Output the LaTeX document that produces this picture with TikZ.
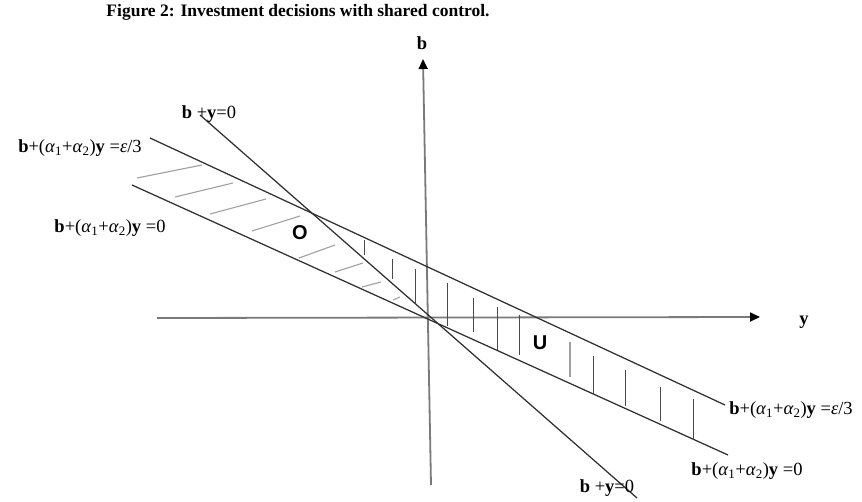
\documentclass[tikz,border=0pt]{standalone}
\usepackage{fontspec}
\setmainfont{Liberation Serif}
\newfontfamily\labsans{Liberation Sans}
\usetikzlibrary{arrows.meta}
\definecolor{linecol}{HTML}{303030}
\definecolor{axiscol}{HTML}{7A7A7A}
\definecolor{hatchgray}{HTML}{A0A0A0}
\definecolor{hatchdark}{HTML}{4A4A4A}
\newcommand{\eqlab}[1]{{\bfseries b}+(\textit{α}\textsubscript{1}+\textit{α}\textsubscript{2}){\bfseries y} =#1}
\begin{document}
\begin{tikzpicture}[x=1pt,y=-1pt,
  axis/.style={draw=axiscol,line width=1.8pt,-{Triangle[length=10pt,width=9pt,color=black,fill=black]}},
  curve/.style={draw=linecol,line width=1.25pt},
  hgray/.style={draw=hatchgray,line width=1.1pt},
  hdark/.style={draw=hatchdark,line width=0.9pt},
  lab/.style={inner sep=0pt,font=\fontsize{18.5}{20}\selectfont},
  reg/.style={inner sep=0pt,font=\labsans\bfseries\fontsize{20}{22}\selectfont}]
\useasboundingbox (0,0) rectangle (862,502);
% coordinates
\coordinate (hL) at (157,318);
\coordinate (hR) at (760,317);
\coordinate (vB) at (431,485);
\coordinate (vT) at (423,59);
\coordinate (uL) at (150,138);
\coordinate (uR) at (725,405);
\coordinate (lL) at (132,185);
\coordinate (lR) at (728,455);
\coordinate (kL) at (200,115);
\coordinate (kR) at (637,498);
% axes
\draw[axis] (hL) -- (hR);
\draw[axis] (vB) -- (vT);
% lines
\draw[curve] (uL) -- (uR);
\draw[curve] (lL) -- (lR);
\draw[curve] (kL) -- (kR);
% gray hatching (region O)
\foreach \a/\b/\c/\d in {137/178/202/165, 175/197/233/183, 210/214/266/199, 252/231/300/216,
  299/258/335/245, 335/272/363/263, 362/287/381/282, 393/300/400/297}
  \draw[hgray] (\a,\b) -- (\c,\d);
% vertical hatching (region U)
\foreach \a/\b/\c in {364/240/255, 392/259/279, 415/269/303, 447/283/326, 473/298/332,
  497/307/350, 519/315/355, 593/356/395, 625/370/406, 660/387/421, 693/399/440}
  \draw[hdark] (\a,\b) -- (\a,\c);
\draw[hgray] (570,342) -- (570,377);
% labels
\node[inner sep=0pt,font=\bfseries\fontsize{17.5}{19}\selectfont] (title) at (298,12) {Figure 2: Investment decisions with shared control.};
\node[lab] (bl) at (422,43) {\bfseries b};
\node[lab] (yl) at (804,322) {\bfseries y};
\node[lab] (k1) at (209,114) {{\bfseries b} +{\bfseries y}=0};
\node[lab] (u1) at (80,148) {\eqlab{\textit{ε}/3}};
\node[lab] (l1) at (110,228) {\eqlab{0}};
\node[lab] (u2) at (791,410) {\eqlab{\textit{ε}/3}};
\node[lab] (l2) at (747,471) {\eqlab{0}};
\node[lab] (k2) at (607,488) {{\bfseries b} +{\bfseries y}=0};
\node[reg] (O) at (300,233) {O};
\node[reg] (U) at (540,343) {U};
\end{tikzpicture}
\end{document}
